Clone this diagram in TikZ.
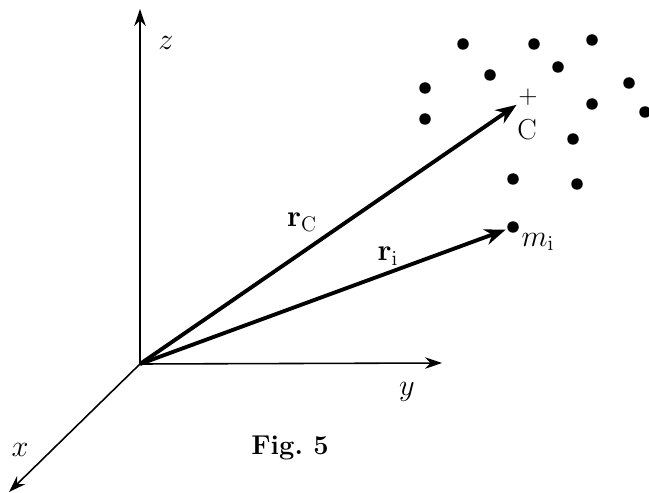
\documentclass[tikz,border=0pt]{standalone}
\usetikzlibrary{arrows.meta}
\begin{document}
\begin{tikzpicture}[x=0.02cm, y=-0.02cm, font=\fontsize{16.5pt}{20pt}\selectfont]
  \tikzset{axis/.style={line width=0.9pt, -{Stealth[length=3.4mm, width=2.3mm]}},
    vec/.style={line width=2.2pt, shorten >=1pt, -{Stealth[length=4.2mm, width=3.2mm]}},
    mass/.style={circle, fill, inner sep=0pt, minimum size=2.3mm}}
  \useasboundingbox (0,0) rectangle (649,493);
  % axes
  \coordinate (O) at (140,364);
  \coordinate (zend) at (140,9);
  \coordinate (yend) at (442,363);
  \coordinate (xend) at (9,492);
  \draw[axis] (O) -- (zend);
  \draw[axis] (O) -- (yend);
  \draw[axis] (O) -- (xend);
  \node (zlab) at (166,43) {$z$};
  \node (ylab) at (407,392) {$y$};
  \node (xlab) at (20,450) {$x$};
  % particles
  \foreach \px/\py [count=\k] in {463/44, 534/44, 592/40, 490/75, 558/67, 425/88,
                                 629/83, 592/104, 645/112, 425/119, 573/139,
                                 513/179, 577/184}{
    \node[mass] (p\k) at (\px,\py) {};
  }
  \node[mass] (mi) at (513,227) {};
  \node[inner sep=0pt, font=\Large] (C) at (528,97) {$+$};
  \node (Clab) at (527,130) {C};
  \node (milab) at (538,242) {$m_{\mathrm{i}}$};
  % position vectors
  \draw[vec] (O) -- (C);
  \draw[vec] (O) -- (mi);
  \node (rC) at (302,222) {$\mathbf{r}_{\mathrm{C}}$};
  \node (ri) at (388,256) {$\mathbf{r}_{\mathrm{i}}$};
  \node[font=\fontsize{15.5pt}{18pt}\selectfont\bfseries] (cap) at (290,448) {Fig.~5};
\end{tikzpicture}
\end{document}
